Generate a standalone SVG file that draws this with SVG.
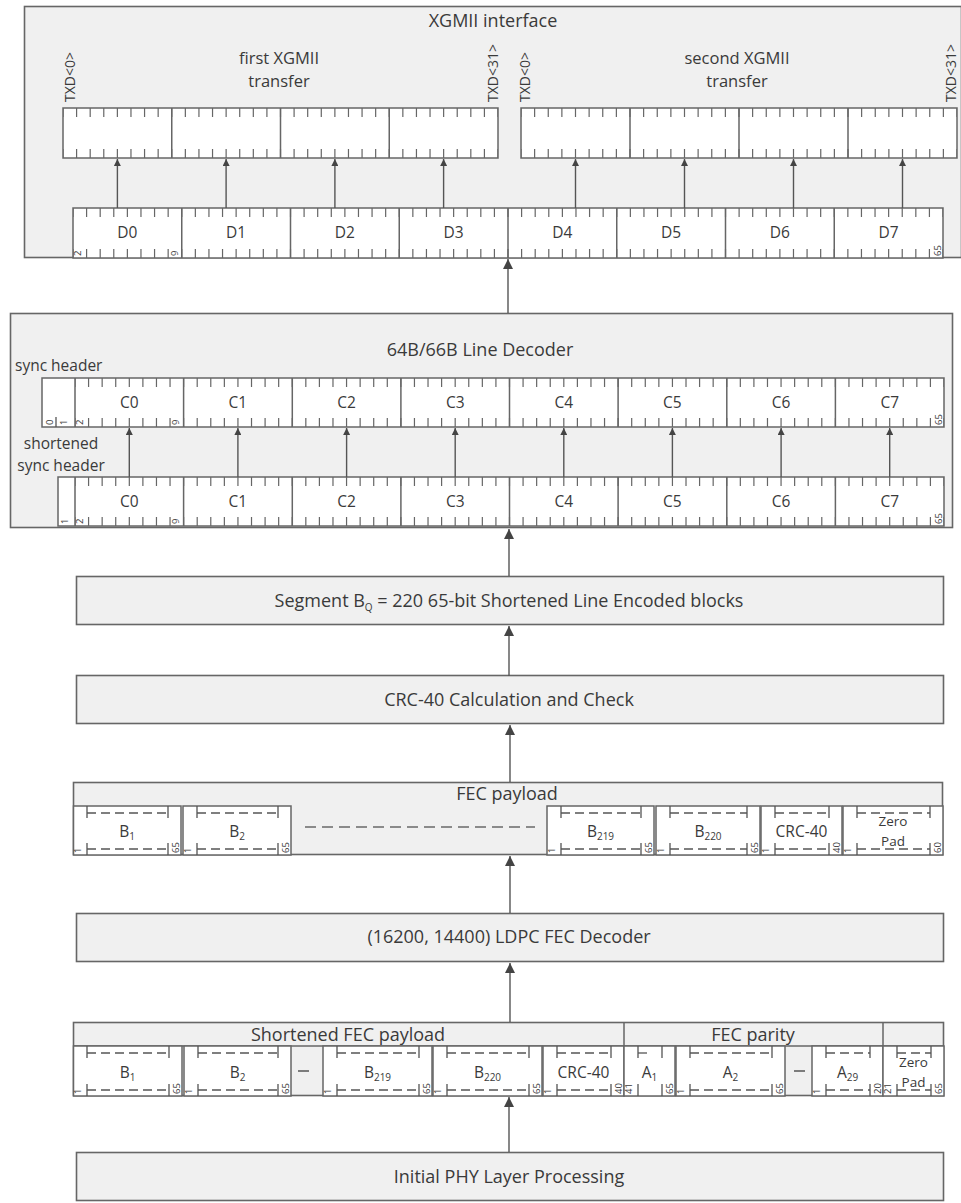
<svg xmlns="http://www.w3.org/2000/svg" width="961" height="1203" viewBox="0 0 961 1203">
<style>
.bg{fill:#ffffff}
.box{fill:#f0f0f0;stroke:#666;stroke-width:1.6}
.cell{fill:#ffffff;stroke:#666;stroke-width:1.5}
.sep{stroke:#666;stroke-width:1.5;fill:none}
.tk{fill:none;stroke:#666;stroke-width:9;stroke-dashoffset:0.6}
.ln{fill:none;stroke:#555;stroke-width:1.3}
.dsh{fill:none;stroke:#555;stroke-width:1.3;stroke-dasharray:9 5}
.gdsh{fill:none;stroke:#8a8a8a;stroke-width:2;stroke-dasharray:11 6}
.conn{fill:none;stroke:#555;stroke-width:1.4}
.big{marker-end:url(#ahb)}
.sm{marker-end:url(#ahs)}
text{font-family:"Open Sans","Liberation Sans",sans-serif;fill:#3a3a3a}
.t{font-size:18px;text-anchor:middle}
.t2{font-size:16.5px;text-anchor:middle}
.ts{font-size:15.5px;text-anchor:start}
.tm{font-size:15.5px;text-anchor:middle}
.c{font-size:15.5px;text-anchor:middle}
.z{font-size:13.5px;text-anchor:middle}
.sub{font-size:10px}
.n{font-size:9.5px;text-anchor:start}
.r{font-size:14px;text-anchor:start}
</style>
<defs>
<marker id="ahb" viewBox="0 0 10 10" refX="10" refY="5" markerUnits="userSpaceOnUse" markerWidth="13" markerHeight="10" orient="auto"><path d="M0,0 L10,5 L0,10 z" fill="#444"/></marker>
<marker id="ahs" viewBox="0 0 10 10" refX="10" refY="5" markerUnits="userSpaceOnUse" markerWidth="10" markerHeight="7" orient="auto"><path d="M0,0 L10,5 L0,10 z" fill="#444"/></marker>
</defs>
<rect class="bg" x="0" y="0" width="961" height="1203"/>

<!-- XGMII interface -->
<g id="xgmii">
<rect class="box" x="24.5" y="6.5" width="937" height="251"/>
<text class="t" x="493" y="27">XGMII interface</text>
<text class="t2" x="279" y="64">first XGMII</text>
<text class="t2" x="279" y="87">transfer</text>
<text class="t2" x="737" y="64">second XGMII</text>
<text class="t2" x="737" y="87">transfer</text>
<text class="r" x="75" y="102" transform="rotate(-90 75 102)">TXD&lt;0&gt;</text>
<text class="r" x="498" y="102" transform="rotate(-90 498 102)">TXD&lt;31&gt;</text>
<text class="r" x="530" y="102" transform="rotate(-90 530 102)">TXD&lt;0&gt;</text>
<text class="r" x="956" y="102" transform="rotate(-90 956 102)">TXD&lt;31&gt;</text>
<g id="xgmii-first">
<rect class="cell" x="63" y="108" width="435" height="50"/>
<path class="tk" style="stroke-dasharray:1.2 12.394" d="M63,112.5 H498 M63,153.5 H498"/>
<path class="sep" d="M171.75,108 V158 M280.5,108 V158 M389.25,108 V158"/>
</g>
<g id="xgmii-second">
<rect class="cell" x="521" y="108" width="436" height="50"/>
<path class="tk" style="stroke-dasharray:1.2 12.425" d="M521,112.5 H957 M521,153.5 H957"/>
<path class="sep" d="M630,108 V158 M739,108 V158 M848,108 V158"/>
</g>
<g id="d-row">
<rect class="cell" x="73" y="208" width="870" height="50"/>
<path class="tk" style="stroke-dasharray:1.2 12.394" d="M73,212.5 H943 M73,253.5 H943"/>
<path class="sep" d="M181.75,208 V258 M290.5,208 V258 M399.25,208 V258 M508,208 V258 M616.75,208 V258 M725.5,208 V258 M834.25,208 V258"/>
<text class="c" x="127.4" y="238">D0</text>
<text class="c" x="236.1" y="238">D1</text>
<text class="c" x="344.9" y="238">D2</text>
<text class="c" x="453.6" y="238">D3</text>
<text class="c" x="562.4" y="238">D4</text>
<text class="c" x="671.1" y="238">D5</text>
<text class="c" x="779.9" y="238">D6</text>
<text class="c" x="888.6" y="238">D7</text>
<text class="n" x="81" y="256" transform="rotate(-90 81 256)">2</text>
<text class="n" x="178" y="256" transform="rotate(-90 178 256)">9</text>
<text class="n" x="941" y="256" transform="rotate(-90 941 256)">65</text>
</g>
</g>

<!-- 64B/66B Line Decoder -->
<g id="decoder">
<rect class="box" x="10.5" y="313.5" width="942" height="214"/>
<text class="t" x="480" y="356">64B/66B Line Decoder</text>
<text class="ts" x="15" y="371">sync header</text>
<text class="tm" x="61" y="449">shortened</text>
<text class="tm" x="61" y="471">sync header</text>
<g id="c-upper">
<rect class="cell" x="42" y="378" width="902" height="49"/>
<path class="tk" style="stroke-dasharray:1.2 12.378" d="M75,382.5 H944 M75,422.5 H944"/>
<path class="sep" d="M75,378 V427 M183.6,378 V427 M292.3,378 V427 M400.9,378 V427 M509.5,378 V427 M618.1,378 V427 M726.8,378 V427 M835.4,378 V427"/>
<path class="ln" d="M56,417 V427"/>
<text class="c" x="129.3" y="408">C0</text>
<text class="c" x="237.9" y="408">C1</text>
<text class="c" x="346.6" y="408">C2</text>
<text class="c" x="455.2" y="408">C3</text>
<text class="c" x="563.8" y="408">C4</text>
<text class="c" x="672.4" y="408">C5</text>
<text class="c" x="781.1" y="408">C6</text>
<text class="c" x="889.7" y="408">C7</text>
<text class="n" x="53" y="425" transform="rotate(-90 53 425)">0</text>
<text class="n" x="67" y="425" transform="rotate(-90 67 425)">1</text>
<text class="n" x="83" y="425" transform="rotate(-90 83 425)">2</text>
<text class="n" x="179" y="425" transform="rotate(-90 179 425)">9</text>
<text class="n" x="942" y="425" transform="rotate(-90 942 425)">65</text>
</g>
<g id="c-lower">
<rect class="cell" x="58" y="477" width="886" height="49"/>
<path class="tk" style="stroke-dasharray:1.2 12.378" d="M75,481.5 H944 M75,521.5 H944"/>
<path class="sep" d="M75,477 V526 M183.6,477 V526 M292.3,477 V526 M400.9,477 V526 M509.5,477 V526 M618.1,477 V526 M726.8,477 V526 M835.4,477 V526"/>
<text class="c" x="129.3" y="507">C0</text>
<text class="c" x="237.9" y="507">C1</text>
<text class="c" x="346.6" y="507">C2</text>
<text class="c" x="455.2" y="507">C3</text>
<text class="c" x="563.8" y="507">C4</text>
<text class="c" x="672.4" y="507">C5</text>
<text class="c" x="781.1" y="507">C6</text>
<text class="c" x="889.7" y="507">C7</text>
<text class="n" x="68" y="524" transform="rotate(-90 68 524)">1</text>
<text class="n" x="83" y="524" transform="rotate(-90 83 524)">2</text>
<text class="n" x="179" y="524" transform="rotate(-90 179 524)">9</text>
<text class="n" x="942" y="524" transform="rotate(-90 942 524)">65</text>
</g>
</g>

<g id="segment">
<rect class="box" x="76.5" y="576.5" width="867" height="48"/>
<text class="t" x="509" y="607">Segment B<tspan class="sub" dy="4">Q</tspan><tspan dy="-4"> = 220 65-bit Shortened Line Encoded blocks</tspan></text>
</g>

<g id="crc">
<rect class="box" x="76.5" y="675.5" width="867" height="48"/>
<text class="t" x="509" y="706">CRC-40 Calculation and Check</text>
</g>

<g id="fec-payload">
<rect class="box" x="73.5" y="782.5" width="869" height="72"/>
<text class="t" x="507" y="800">FEC payload</text>
<path class="gdsh" d="M305,827 H535"/>
<g id="p-b1"><rect class="cell" x="73.5" y="806" width="107.5" height="49"/>
<path class="ln" d="M87,806 v12 M168,806 v12 M87,855 v-12 M168,855 v-12"/><path class="dsh" d="M87,813 H168 M87,849 H168"/>
<text class="c" x="127" y="837">B<tspan class="sub" dy="3">1</tspan></text>
<text class="n" x="81" y="853" transform="rotate(-90 81 853)">1</text><text class="n" x="178.5" y="853" transform="rotate(-90 178.5 853)">65</text></g>
<g id="p-b2"><rect class="cell" x="183" y="806" width="108" height="49"/>
<path class="ln" d="M197,806 v12 M278,806 v12 M197,855 v-12 M278,855 v-12"/><path class="dsh" d="M197,813 H278 M197,849 H278"/>
<text class="c" x="237" y="837">B<tspan class="sub" dy="3">2</tspan></text>
<text class="n" x="191" y="853" transform="rotate(-90 191 853)">1</text><text class="n" x="288.5" y="853" transform="rotate(-90 288.5 853)">65</text></g>
<g id="p-b219"><rect class="cell" x="547" y="806" width="107" height="49"/>
<path class="ln" d="M561,806 v12 M641,806 v12 M561,855 v-12 M641,855 v-12"/><path class="dsh" d="M561,813 H641 M561,849 H641"/>
<text class="c" x="600.5" y="837">B<tspan class="sub" dy="3">219</tspan></text>
<text class="n" x="555" y="853" transform="rotate(-90 555 853)">1</text><text class="n" x="651.5" y="853" transform="rotate(-90 651.5 853)">65</text></g>
<g id="p-b220"><rect class="cell" x="656" y="806" width="104" height="49"/>
<path class="ln" d="M670,806 v12 M747,806 v12 M670,855 v-12 M747,855 v-12"/><path class="dsh" d="M670,813 H747 M670,849 H747"/>
<text class="c" x="708" y="837">B<tspan class="sub" dy="3">220</tspan></text>
<text class="n" x="664" y="853" transform="rotate(-90 664 853)">1</text><text class="n" x="757.5" y="853" transform="rotate(-90 757.5 853)">65</text></g>
<g id="p-crc"><rect class="cell" x="761" y="806" width="81" height="49"/>
<path class="ln" d="M775,806 v12 M829,806 v12 M775,855 v-12 M829,855 v-12"/><path class="dsh" d="M775,813 H829 M775,849 H829"/>
<text class="c" x="801.5" y="837">CRC-40</text>
<text class="n" x="769" y="853" transform="rotate(-90 769 853)">1</text><text class="n" x="839.5" y="853" transform="rotate(-90 839.5 853)">40</text></g>
<g id="p-zero"><rect class="cell" x="843" y="806" width="100" height="49"/>
<path class="ln" d="M857,806 v12 M930,806 v12 M857,855 v-12 M930,855 v-12"/><path class="dsh" d="M857,813 H930 M857,849 H930"/>
<text class="z" x="893" y="826">Zero</text><text class="z" x="893" y="845.5">Pad</text>
<text class="n" x="851" y="853" transform="rotate(-90 851 853)">1</text><text class="n" x="940.5" y="853" transform="rotate(-90 940.5 853)">60</text></g>
</g>

<g id="ldpc">
<rect class="box" x="76.5" y="913.5" width="867" height="48"/>
<text class="t" x="509" y="943">(16200, 14400) LDPC FEC Decoder</text>
</g>

<g id="shortened-fec">
<rect class="box" x="73.5" y="1022.5" width="870" height="73"/>
<path class="sep" d="M73.5,1046 H943.5 M624,1022.5 V1046 M883,1022.5 V1046"/>
<text class="t" x="348" y="1041">Shortened FEC payload</text>
<text class="t" x="753" y="1041">FEC parity</text>
<path class="ln" d="M298,1071 H309 M794,1071 H805"/>
<g id="s-b1"><rect class="cell" x="73.5" y="1046" width="108.5" height="50"/>
<path class="ln" d="M87,1046 v12 M169,1046 v12 M87,1096 v-12 M169,1096 v-12"/><path class="dsh" d="M87,1053 H169 M87,1090 H169"/>
<text class="c" x="127.5" y="1078">B<tspan class="sub" dy="3">1</tspan></text>
<text class="n" x="81" y="1094" transform="rotate(-90 81 1094)">1</text><text class="n" x="179.5" y="1094" transform="rotate(-90 179.5 1094)">65</text></g>
<g id="s-b2"><rect class="cell" x="184" y="1046" width="107" height="50"/>
<path class="ln" d="M198,1046 v12 M278,1046 v12 M198,1096 v-12 M278,1096 v-12"/><path class="dsh" d="M198,1053 H278 M198,1090 H278"/>
<text class="c" x="237.5" y="1078">B<tspan class="sub" dy="3">2</tspan></text>
<text class="n" x="192" y="1094" transform="rotate(-90 192 1094)">1</text><text class="n" x="288.5" y="1094" transform="rotate(-90 288.5 1094)">65</text></g>
<g id="s-b219"><rect class="cell" x="323" y="1046" width="109" height="50"/>
<path class="ln" d="M337,1046 v12 M419,1046 v12 M337,1096 v-12 M419,1096 v-12"/><path class="dsh" d="M337,1053 H419 M337,1090 H419"/>
<text class="c" x="377.5" y="1078">B<tspan class="sub" dy="3">219</tspan></text>
<text class="n" x="331" y="1094" transform="rotate(-90 331 1094)">1</text><text class="n" x="429.5" y="1094" transform="rotate(-90 429.5 1094)">65</text></g>
<g id="s-b220"><rect class="cell" x="433" y="1046" width="109" height="50"/>
<path class="ln" d="M447,1046 v12 M529,1046 v12 M447,1096 v-12 M529,1096 v-12"/><path class="dsh" d="M447,1053 H529 M447,1090 H529"/>
<text class="c" x="487.5" y="1078">B<tspan class="sub" dy="3">220</tspan></text>
<text class="n" x="441" y="1094" transform="rotate(-90 441 1094)">1</text><text class="n" x="539.5" y="1094" transform="rotate(-90 539.5 1094)">65</text></g>
<g id="s-crc"><rect class="cell" x="543" y="1046" width="81" height="50"/>
<path class="ln" d="M557,1046 v12 M611,1046 v12 M557,1096 v-12 M611,1096 v-12"/><path class="dsh" d="M557,1053 H611 M557,1090 H611"/>
<text class="c" x="583.5" y="1078">CRC-40</text>
<text class="n" x="551" y="1094" transform="rotate(-90 551 1094)">1</text><text class="n" x="621.5" y="1094" transform="rotate(-90 621.5 1094)">40</text></g>
<g id="s-a1"><rect class="cell" x="624" y="1046" width="51" height="50"/>
<path class="ln" d="M638,1046 v12 M662,1046 v12 M638,1096 v-12 M662,1096 v-12"/><path class="dsh" d="M638,1053 H650"/>
<text class="c" x="649.5" y="1078">A<tspan class="sub" dy="3">1</tspan></text>
<text class="n" x="632" y="1094" transform="rotate(-90 632 1094)">41</text><text class="n" x="672.5" y="1094" transform="rotate(-90 672.5 1094)">65</text></g>
<g id="s-a2"><rect class="cell" x="676" y="1046" width="109" height="50"/>
<path class="ln" d="M690,1046 v12 M772,1046 v12 M690,1096 v-12 M772,1096 v-12"/><path class="dsh" d="M690,1053 H772 M690,1090 H772"/>
<text class="c" x="730.5" y="1078">A<tspan class="sub" dy="3">2</tspan></text>
<text class="n" x="684" y="1094" transform="rotate(-90 684 1094)">1</text><text class="n" x="782.5" y="1094" transform="rotate(-90 782.5 1094)">65</text></g>
<g id="s-a29"><rect class="cell" x="812" y="1046" width="71" height="50"/>
<path class="ln" d="M826,1046 v12 M870,1046 v12 M826,1096 v-12 M870,1096 v-12"/><path class="dsh" d="M826,1053 H870 M826,1090 H870"/>
<text class="c" x="847.5" y="1078">A<tspan class="sub" dy="3">29</tspan></text>
<text class="n" x="820" y="1094" transform="rotate(-90 820 1094)">1</text><text class="n" x="880.5" y="1094" transform="rotate(-90 880.5 1094)">20</text></g>
<g id="s-zero"><rect class="cell" x="883" y="1046" width="61" height="50"/>
<path class="ln" d="M897,1046 v12 M931,1046 v12 M897,1096 v-12 M931,1096 v-12"/><path class="dsh" d="M897,1053 H931 M897,1090 H931"/>
<text class="z" x="913.5" y="1067">Zero</text><text class="z" x="913.5" y="1087">Pad</text>
<text class="n" x="891" y="1094" transform="rotate(-90 891 1094)">21</text><text class="n" x="941.5" y="1094" transform="rotate(-90 941.5 1094)">65</text></g>
</g>

<g id="initial-phy">
<rect class="box" x="76.5" y="1152.5" width="867" height="48"/>
<text class="t" x="509" y="1183">Initial PHY Layer Processing</text>
</g>

<g id="connectors">
<path class="conn big" d="M509,1152 V1097"/>
<path class="conn big" d="M510,1022 V963"/>
<path class="conn big" d="M510,913 V856"/>
<path class="conn big" d="M510,782 V725"/>
<path class="conn big" d="M509,676 V626"/>
<path class="conn big" d="M509,576 V529"/>
<path class="conn big" d="M508,313 V259"/>
<path class="conn sm" d="M129.3,477 V428"/>
<path class="conn sm" d="M237.9,477 V428"/>
<path class="conn sm" d="M346.6,477 V428"/>
<path class="conn sm" d="M455.2,477 V428"/>
<path class="conn sm" d="M563.8,477 V428"/>
<path class="conn sm" d="M672.4,477 V428"/>
<path class="conn sm" d="M781.1,477 V428"/>
<path class="conn sm" d="M889.7,477 V428"/>
<path class="conn sm" d="M117.4,208 V159"/>
<path class="conn sm" d="M226.1,208 V159"/>
<path class="conn sm" d="M334.9,208 V159"/>
<path class="conn sm" d="M443.6,208 V159"/>
<path class="conn sm" d="M575.5,208 V159"/>
<path class="conn sm" d="M684.5,208 V159"/>
<path class="conn sm" d="M793.5,208 V159"/>
<path class="conn sm" d="M902.5,208 V159"/>
</g>
</svg>
